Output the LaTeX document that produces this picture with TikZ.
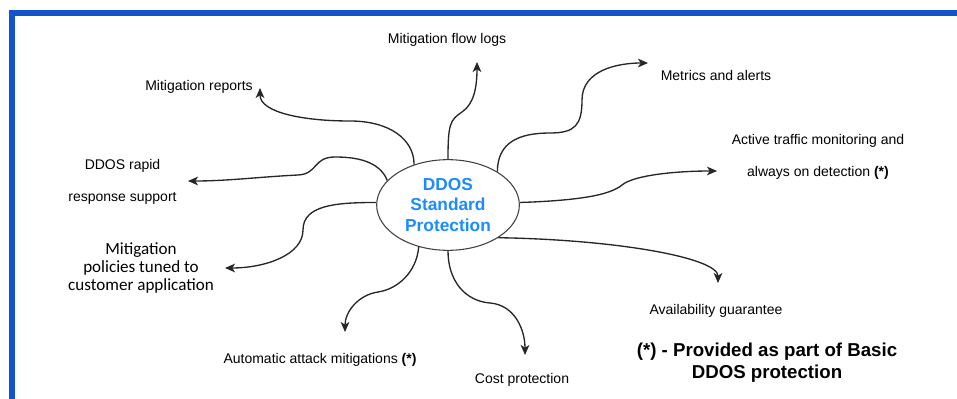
\documentclass[tikz,border=0pt]{standalone}
\usepackage{fontspec}
\setmainfont{Liberation Sans}
\newfontfamily\calibrifont{Carlito}
\usetikzlibrary{shapes.geometric, arrows.meta, positioning}
\definecolor{framebl}{HTML}{1155CC}
\definecolor{hubblue}{HTML}{1A8CFF}

\begin{document}
\begin{tikzpicture}[
    x=0.75pt, y=-0.75pt,
    hub/.style={ellipse, draw=black!75, line width=0.8pt, minimum width=107pt, minimum height=68pt, inner sep=0pt, align=center, text=hubblue, font=\fontsize{13}{15.4}\selectfont\bfseries},
    lbl/.style={inner sep=0pt, align=center, font=\fontsize{10.5}{12.6}\selectfont},
    wide/.style={lbl, font=\fontsize{10.5}{24}\selectfont},
    calib/.style={inner sep=0pt, align=center, font=\calibrifont\fontsize{12.8}{13.5}\selectfont},
    note/.style={inner sep=0pt, align=center, font=\fontsize{14}{16.5}\selectfont\bfseries},
    arrow/.style={-{Stealth[length=7.5pt, width=6.5pt, inset=2pt]}, draw=black!85, line width=1pt},
    frame/.style={draw=framebl, line width=4.5pt}
]
    \useasboundingbox (0,0) rectangle (957,399);
    \draw[frame] (12,399) -- (12,13) -- (957,13);

    % centre
    \node[hub] (core) at (448,205) {DDOS\\Standard\\Protection};

    % features
    \node[lbl] (flow) at (447,40) {Mitigation flow logs};
    \node[lbl] (reports) at (199,87) {Mitigation reports};
    \node[lbl] (metrics) at (716,75) {Metrics and alerts};
    \node[wide] (rapid) at (122.5,181.5) {DDOS rapid\\response support};
    \node[calib] (policies) at (141,268) {Mitigation\\policies tuned to\\customer application};
    \node[wide] (active) at (818,157) {Active traffic monitoring and\\always on detection \textbf{(*)}};
    \node[lbl] (avail) at (716,311) {Availability guarantee};
    \node[lbl] (auto) at (320,360) {Automatic attack mitigations \textbf{(*)}};
    \node[lbl] (cost) at (522,380) {Cost protection};
    \node[note] (basic) at (767,363) {(*) - Provided as part of Basic\\DDOS protection};

    % arrow ends
    \coordinate (flowtip) at (477,62);
    \coordinate (reportstip) at (260,88);
    \coordinate (metricstip) at (648,63);
    \coordinate (rapidtip) at (188,181);
    \coordinate (policiestip) at (225,268);
    \coordinate (activetip) at (717,171);
    \coordinate (availtip) at (718,283);
    \coordinate (costtip) at (525,355);
    \coordinate (autotip) at (345,332);

    \draw[arrow] (core.north) .. controls +(0,-35) and +(-12,8) .. (462,112) .. controls +(12,-8) and +(0,25) .. (flowtip);
    \draw[arrow] (core.130) .. controls +(0,-25) and +(40,0) .. (350,121) .. controls +(-45,0) and +(0,25) .. (reportstip);
    \draw[arrow] (core.34) .. controls +(0,-30) and +(-30,0) .. (550,133) .. controls +(25,0) and +(0,25) .. (582,100) .. controls +(0,-30) and +(-30,0) .. (metricstip);
    \draw[arrow] (core.158) .. controls +(-8,-20) and +(20,0) .. (335,157) .. controls +(-22,0) and +(20,-1) .. (298,175) .. controls +(-40,2) and +(40,0) .. (rapidtip);
    \draw[arrow] (core.178) .. controls +(-40,0) and +(0,-25) .. (303,230) .. controls +(0,25) and +(40,0) .. (policiestip);
    \draw[arrow] (core.2) .. controls +(60,-2) and +(-12,10) .. (622,185) .. controls +(12,-10) and +(-40,0) .. (activetip);
    \draw[arrow] (core.-33) .. controls +(120,2) and +(0,-25) .. (availtip);
    \draw[arrow] (core.south) .. controls +(0,30) and +(-25,-2) .. (490,303) .. controls +(25,2) and +(0,-25) .. (costtip);
    \draw[arrow] (core.235) .. controls +(-2,25) and +(20,-3) .. (378,292) .. controls +(-20,3) and +(0,-20) .. (autotip);
\end{tikzpicture}
\end{document}
